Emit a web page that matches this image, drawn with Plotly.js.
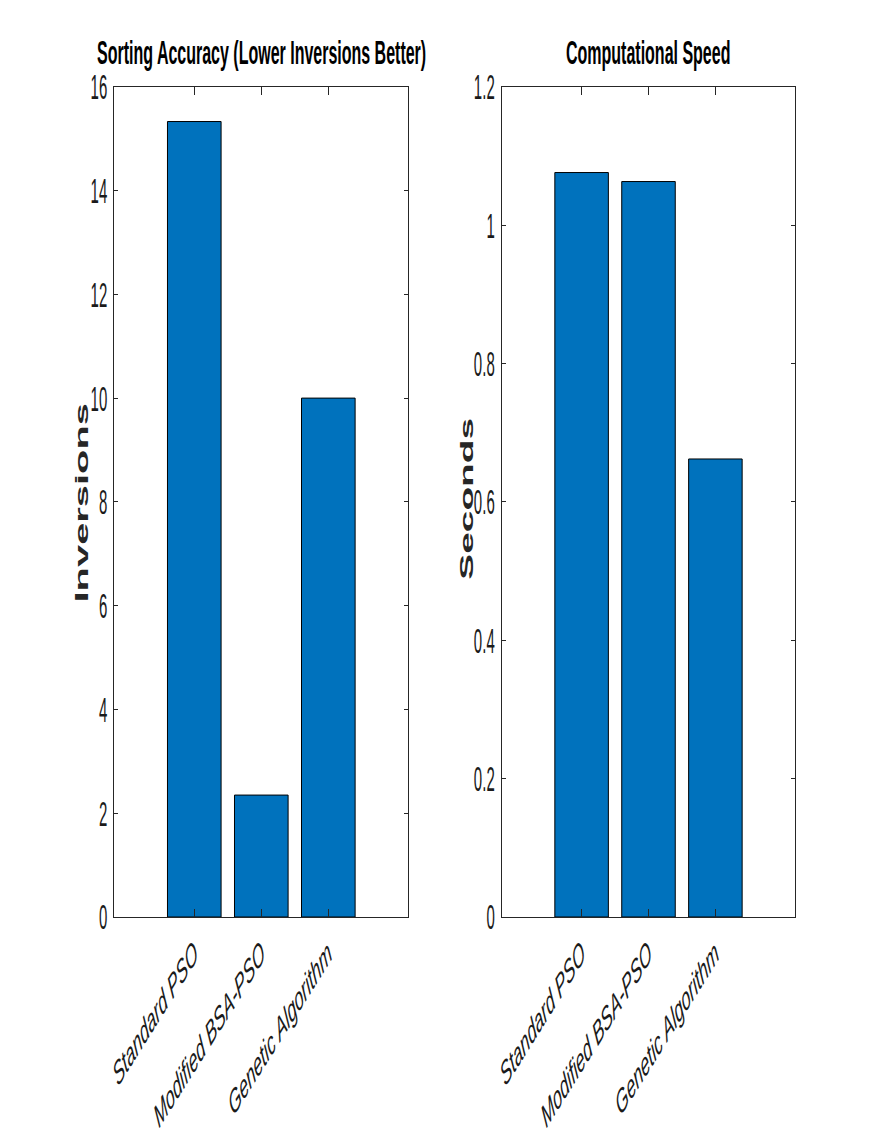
<!DOCTYPE html>
<html>
<head>
<meta charset="utf-8">
<script src="https://cdn.plot.ly/plotly-3.0.1.min.js"></script>
<style>
  html, body { margin: 0; padding: 0; background: #ffffff; }
  #chart { width: 877px; height: 1140px; }
</style>
</head>
<body>
<div id="chart"></div>
<script>
// Benchmark results for the three optimisers
const methods = ['Standard PSO', 'Modified BSA-PSO', 'Genetic Algorithm'];
const inversions = [15.33, 2.35, 10.0];
const seconds = [1.076, 1.063, 0.662];

// Tick values and labels
const inversionTicks = [0, 2, 4, 6, 8, 10, 12, 14, 16];
const secondTicks = [0, 0.2, 0.4, 0.6, 0.8, 1, 1.2];
const secondTickText = ['0', '0.2', '0.4', '0.6', '0.8', '1', '1.2'];

// Panel and axis titles
const panelTitles = ['Sorting Accuracy (Lower Inversions Better)', 'Computational Speed'];
const axisTitles = ['Inversions', 'Seconds'];

const FONT = 'Liberation Sans, Arial, Helvetica, sans-serif';
const INK = '#262626';
const BAR = '#0072BD';

// vertical stretch applied to the lettering
const STRETCH_TITLE = 2.1;
const STRETCH_YTICK = 2.3;
const STRETCH_XTICK = 2.05;

const barTrace = (y, xa, ya) => ({
  type: 'bar', x: methods, y: y, xaxis: xa, yaxis: ya,
  width: 0.8,
  marker: { color: BAR, line: { color: '#000000', width: 1 } },
  hoverinfo: 'skip'
});

const xStyle = (domain, anchor) => ({
  domain: domain, anchor: anchor, type: 'category',
  range: [-1.194, 3.194],
  showgrid: false, zeroline: false,
  showline: true, mirror: 'ticks', linecolor: INK, linewidth: 1,
  ticks: 'inside', ticklen: 8, tickwidth: 1, tickcolor: INK,
  tickangle: -38, ticklabelstandoff: 10,
  tickfont: { family: FONT, size: 16, color: '#1a1a1a', style: 'italic' }
});

const yStyle = (domain, anchor, range, vals, text) => ({
  domain: domain, anchor: anchor, range: range,
  tickmode: 'array', tickvals: vals, ticktext: text,
  showgrid: false, zeroline: false,
  showline: true, mirror: 'ticks', linecolor: INK, linewidth: 1,
  ticks: 'inside', ticklen: 4, tickwidth: 1, tickcolor: INK,
  ticklabelstandoff: 3,
  tickfont: { family: FONT, size: 15, color: '#1a1a1a' }
});

const yDomain = [0.1956, 0.9239];
const leftDomain = [0.1303, 0.4656];
const rightDomain = [0.5721, 0.9068];

const layout = {
  width: 877, height: 1140,
  margin: { l: 0, r: 0, t: 0, b: 0 },
  paper_bgcolor: '#ffffff', plot_bgcolor: '#ffffff',
  showlegend: false,
  font: { family: FONT, color: INK },
  xaxis: xStyle(leftDomain, 'y'),
  yaxis: yStyle(yDomain, 'x', [0, 16], inversionTicks, inversionTicks.map(String)),
  xaxis2: xStyle(rightDomain, 'y2'),
  yaxis2: yStyle(yDomain, 'x2', [0, 1.2], secondTicks, secondTickText),
  annotations: [
    { text: panelTitles[0], xref: 'paper', yref: 'paper',
      x: (leftDomain[0] + leftDomain[1]) / 2, y: 0.954,
      xanchor: 'center', yanchor: 'middle', showarrow: false,
      font: { family: FONT, size: 16, color: '#000000', weight: 'bold' } },
    { text: panelTitles[1], xref: 'paper', yref: 'paper',
      x: (rightDomain[0] + rightDomain[1]) / 2, y: 0.954,
      xanchor: 'center', yanchor: 'middle', showarrow: false,
      font: { family: FONT, size: 16, color: '#000000', weight: 'bold' } },
    { text: axisTitles[0], xref: 'paper', yref: 'paper',
      x: 0.0932, y: 0.5592, textangle: -90,
      xanchor: 'center', yanchor: 'middle', showarrow: false,
      font: { family: FONT, size: 19, color: INK, weight: 'bold' } },
    { text: axisTitles[1], xref: 'paper', yref: 'paper',
      x: 0.532, y: 0.5625, textangle: -90,
      xanchor: 'center', yanchor: 'middle', showarrow: false,
      font: { family: FONT, size: 18.5, color: INK, weight: 'bold' } }
  ]
};

// Stretch a text element vertically (in page space) about a horizontal line.
function stretchText(el, k, where) {
  const parent = el.parentNode;
  const svg = el.ownerSVGElement;
  const P = parent.getScreenCTM();
  const own = el.transform.baseVal.consolidate();
  const T = own ? own.matrix : svg.createSVGMatrix();
  const r = el.getBoundingClientRect();
  const Y = where === 'top' ? r.top : where === 'bottom' ? r.bottom : (r.top + r.bottom) / 2;
  const S = svg.createSVGMatrix();
  S.a = 1; S.b = 0; S.c = 0; S.d = k; S.e = 0; S.f = Y * (1 - k);
  const M = P.inverse().multiply(S).multiply(P).multiply(T);
  el.setAttribute('transform',
    'matrix(' + [M.a, M.b, M.c, M.d, M.e, M.f].join(' ') + ')');
}

const gd = document.getElementById('chart');
Plotly.newPlot(gd,
  [barTrace(inversions, 'x', 'y'), barTrace(seconds, 'x2', 'y2')],
  layout,
  { staticPlot: true, displayModeBar: false }
).then(() => {
  gd.querySelectorAll('g.xtick text, g.x2tick text').forEach(t => stretchText(t, STRETCH_XTICK, 'top'));
  gd.querySelectorAll('g.ytick text, g.y2tick text').forEach(t => stretchText(t, STRETCH_YTICK, 'middle'));
  gd.querySelectorAll('text.annotation-text').forEach(t => stretchText(t, STRETCH_TITLE, 'middle'));
});
</script>
</body>
</html>
